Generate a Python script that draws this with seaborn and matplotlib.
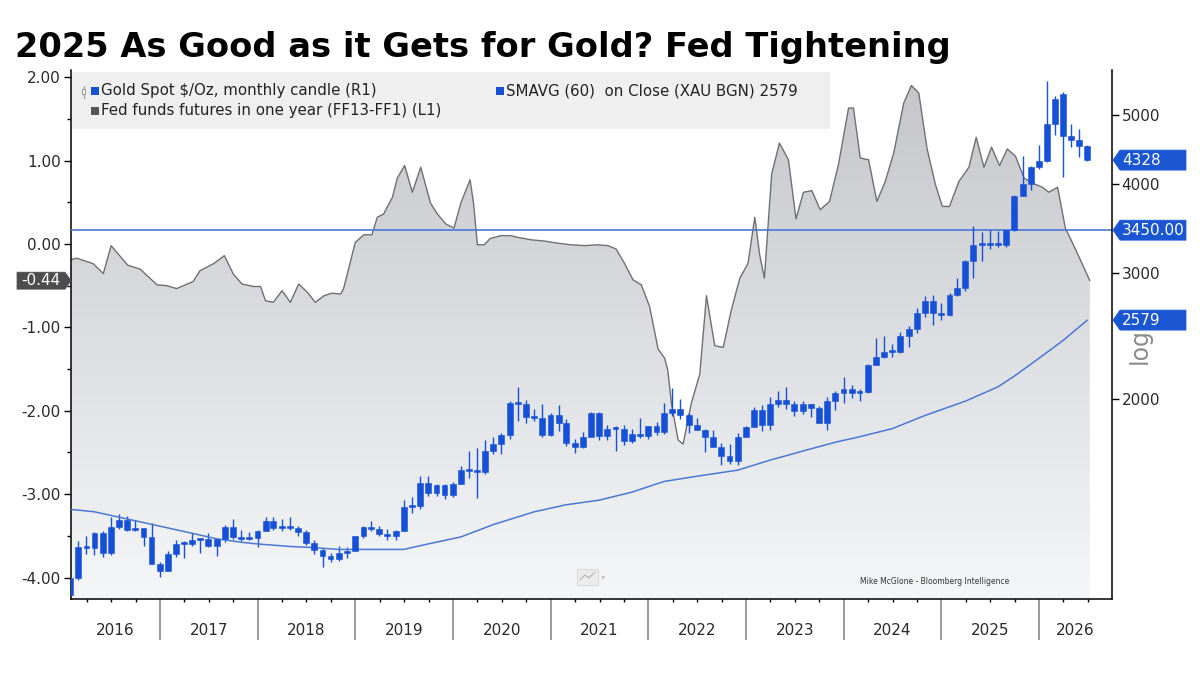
import numpy as np
import pandas as pd
import matplotlib
matplotlib.use("Agg")
import matplotlib.pyplot as plt
import matplotlib.transforms as mtransforms
import seaborn as sns
from matplotlib.colors import LinearSegmentedColormap
from matplotlib.patches import Polygon, Rectangle
from matplotlib.ticker import FixedLocator, NullLocator, FuncFormatter

# Gold spot monthly candles, Jan 2016 .. Jun 2026
gold_open = [
    1061, 1118, 1238, 1233, 1293, 1215, 1322, 1351, 1309, 1316, 1277, 1173,
    1146, 1211, 1249, 1249, 1268, 1269, 1242, 1269, 1322, 1280, 1271, 1275,
    1303, 1345, 1318, 1325, 1315, 1299, 1253, 1224, 1201, 1192, 1215, 1222,
    1282, 1321, 1313, 1292, 1284, 1305, 1409, 1414, 1520, 1472, 1513, 1464,
    1517, 1589, 1585, 1577, 1687, 1730, 1781, 1975, 1968, 1886, 1879, 1776,
    1898, 1847, 1734, 1708, 1769, 1907, 1770, 1814, 1814, 1743, 1783, 1775,
    1829, 1797, 1909, 1937, 1897, 1837, 1807, 1766, 1711, 1660, 1633, 1768,
    1824, 1928, 1837, 1969, 1990, 1963, 1919, 1965, 1940, 1849, 1983, 2036,
    2063, 2040, 2044, 2230, 2286, 2327, 2327, 2447, 2503, 2635, 2744, 2643,
    2625, 2798, 2858, 3124, 3289, 3289, 3303, 3290, 3448, 3859, 4003, 4239,
    4319, 4860, 5360, 4683, 4617, 4530,
]
gold_high = [
    1128, 1263, 1283, 1298, 1303, 1362, 1375, 1367, 1352, 1317, 1338, 1180,
    1220, 1264, 1262, 1296, 1273, 1296, 1270, 1331, 1357, 1306, 1299, 1306,
    1366, 1362, 1356, 1366, 1326, 1309, 1266, 1235, 1214, 1243, 1237, 1284,
    1326, 1346, 1324, 1310, 1306, 1439, 1453, 1555, 1557, 1518, 1516, 1525,
    1611, 1689, 1704, 1748, 1765, 1789, 1984, 2075, 1992, 1933, 1966, 1907,
    1959, 1872, 1755, 1798, 1913, 1917, 1834, 1832, 1834, 1814, 1877, 1831,
    1853, 1974, 2070, 1998, 1910, 1879, 1814, 1808, 1735, 1730, 1787, 1833,
    1949, 1960, 2009, 2049, 2079, 1984, 1987, 1966, 1953, 2009, 2052, 2146,
    2088, 2065, 2236, 2432, 2450, 2388, 2483, 2531, 2685, 2790, 2801, 2726,
    2817, 2956, 3128, 3500, 3435, 3452, 3439, 3453, 3871, 4381, 4245, 4550,
    5582, 5320, 5400, 4869, 4781, 4540,
]
gold_low = [
    1061, 1111, 1208, 1207, 1200, 1207, 1310, 1302, 1303, 1241, 1171, 1123,
    1146, 1200, 1195, 1240, 1214, 1236, 1204, 1259, 1271, 1260, 1264, 1236,
    1302, 1307, 1303, 1309, 1282, 1245, 1211, 1160, 1180, 1183, 1196, 1221,
    1276, 1303, 1281, 1266, 1267, 1304, 1382, 1400, 1459, 1459, 1445, 1454,
    1517, 1548, 1451, 1568, 1670, 1671, 1757, 1863, 1849, 1860, 1765, 1775,
    1802, 1717, 1677, 1706, 1766, 1750, 1750, 1688, 1721, 1734, 1759, 1753,
    1780, 1785, 1890, 1872, 1787, 1805, 1681, 1709, 1615, 1617, 1616, 1765,
    1823, 1804, 1810, 1950, 1932, 1893, 1903, 1885, 1846, 1810, 1931, 1973,
    2002, 1984, 2039, 2229, 2278, 2286, 2319, 2364, 2471, 2603, 2537, 2583,
    2614, 2789, 2833, 2957, 3121, 3247, 3268, 3268, 3436, 3850, 3930, 4200,
    4300, 4700, 4104, 4510, 4377, 4320,
]
gold_close = [
    1118, 1238, 1233, 1293, 1215, 1322, 1351, 1309, 1316, 1277, 1173, 1146,
    1211, 1249, 1249, 1268, 1269, 1242, 1269, 1322, 1280, 1271, 1275, 1303,
    1345, 1318, 1325, 1315, 1299, 1253, 1224, 1201, 1192, 1215, 1222, 1282,
    1321, 1313, 1292, 1284, 1305, 1409, 1414, 1520, 1472, 1513, 1464, 1517,
    1589, 1585, 1577, 1687, 1730, 1781, 1975, 1968, 1886, 1879, 1776, 1898,
    1847, 1734, 1708, 1769, 1907, 1770, 1814, 1814, 1743, 1783, 1775, 1829,
    1797, 1909, 1937, 1897, 1837, 1807, 1766, 1711, 1660, 1633, 1768, 1824,
    1928, 1837, 1969, 1990, 1963, 1919, 1965, 1940, 1849, 1983, 2036, 2063,
    2040, 2044, 2230, 2286, 2327, 2327, 2447, 2503, 2635, 2744, 2643, 2625,
    2798, 2858, 3124, 3289, 3289, 3303, 3290, 3448, 3859, 4003, 4239, 4319,
    4860, 5270, 4683, 4617, 4530, 4328,
]

# 60-month simple moving average of the close
sma_months = [
    "2016-01", "2016-04", "2016-08", "2016-12", "2017-04", "2017-07", "2017-10",
    "2017-12", "2018-04", "2018-07", "2018-10", "2019-01", "2019-06", "2019-09",
    "2020-01", "2020-05", "2020-10", "2021-02", "2021-06", "2021-10", "2022-02",
    "2022-06", "2022-11", "2023-03", "2023-07", "2023-11", "2024-02", "2024-06",
    "2024-10", "2025-03", "2025-07", "2025-09", "2025-12", "2026-03", "2026-06",
]
sma_values = [
    1398, 1387, 1355, 1324, 1294, 1271, 1257, 1250, 1240, 1235, 1228, 1228,
    1228, 1250, 1279, 1331, 1387, 1419, 1440, 1478, 1530, 1556, 1587, 1639,
    1688, 1737, 1768, 1815, 1894, 1984, 2078, 2151, 2279, 2414, 2579,
]

# Fed funds futures in one year (FF13-FF1), decimal-year dates
ff_dates = [
    2016.09, 2016.145, 2016.315, 2016.42, 2016.50, 2016.67, 2016.795, 2016.97,
    2017.07, 2017.17, 2017.34, 2017.41, 2017.55, 2017.66, 2017.75, 2017.84,
    2017.96, 2018.03, 2018.08, 2018.16, 2018.25, 2018.335, 2018.42, 2018.51,
    2018.59, 2018.68, 2018.76, 2018.85, 2018.88, 2019.00, 2019.087, 2019.17,
    2019.225, 2019.29, 2019.38, 2019.43, 2019.505, 2019.584, 2019.67, 2019.77,
    2019.84, 2019.926, 2020.01, 2020.08, 2020.175, 2020.21, 2020.25, 2020.32,
    2020.38, 2020.49, 2020.59, 2020.66, 2020.80, 2020.935, 2021.07, 2021.21,
    2021.345, 2021.48, 2021.586, 2021.67, 2021.757, 2021.843, 2021.928, 2022.013,
    2022.10, 2022.167, 2022.20, 2022.236, 2022.305, 2022.356, 2022.44, 2022.527,
    2022.595, 2022.68, 2022.767, 2022.85, 2022.937, 2023.02, 2023.09, 2023.14,
    2023.188, 2023.263, 2023.342, 2023.434, 2023.512, 2023.588, 2023.674, 2023.759,
    2023.855, 2023.948, 2024.05, 2024.10, 2024.17, 2024.255, 2024.34, 2024.426,
    2024.512, 2024.615, 2024.693, 2024.769, 2024.854, 2024.94, 2025.01, 2025.083,
    2025.18, 2025.282, 2025.357, 2025.436, 2025.514, 2025.596, 2025.675, 2025.76,
    2025.847, 2025.932, 2026.035, 2026.10, 2026.19, 2026.27, 2026.38, 2026.52,
]
ff_values = [
    -0.19, -0.17, -0.235, -0.355, -0.02, -0.255, -0.30, -0.49,
    -0.50, -0.535, -0.45, -0.32, -0.235, -0.14, -0.36, -0.48,
    -0.51, -0.51, -0.68, -0.70, -0.56, -0.70, -0.48, -0.58,
    -0.70, -0.62, -0.59, -0.60, -0.535, 0.02, 0.11, 0.11,
    0.32, 0.36, 0.56, 0.79, 0.94, 0.62, 0.92, 0.49,
    0.36, 0.24, 0.19, 0.49, 0.77, 0.49, -0.01, -0.01,
    0.065, 0.10, 0.10, 0.08, 0.05, 0.035, 0.01, -0.01,
    -0.02, -0.01, -0.02, -0.06, -0.235, -0.43, -0.49, -0.75,
    -1.26, -1.37, -1.52, -1.91, -2.35, -2.40, -1.91, -1.56,
    -0.62, -1.22, -1.24, -0.79, -0.41, -0.235, 0.32, -0.13,
    -0.41, 0.84, 1.21, 1.01, 0.30, 0.62, 0.64, 0.41,
    0.51, 0.96, 1.63, 1.63, 1.03, 1.01, 0.51, 0.75,
    1.09, 1.69, 1.90, 1.81, 1.14, 0.71, 0.45, 0.45,
    0.75, 0.92, 1.28, 0.92, 1.16, 0.94, 1.14, 1.05,
    0.79, 0.73, 0.68, 0.62, 0.68, 0.19, -0.08, -0.44,
]

years = list(range(2016, 2027))
level_line = 3450
last_ff = -0.44
last_gold = 4328
last_sma = 2579

title = "2025 As Good as it Gets for Gold? Fed Tightening"
legend_gold = "Gold Spot $/Oz, monthly candle (R1)"
legend_sma = "SMAVG (60)  on Close (XAU BGN) 2579"
legend_ff = "Fed funds futures in one year (FF13-FF1) (L1)"
credit = "Mike McGlone - Bloomberg Intelligence"

BLUE = "#1650d6"
LINE_BLUE = "#4a78d4"
TAG_BLUE = "#1a55d2"
W, H = 1200, 675


def dec_year(dates):
    days = np.where(dates.is_leap_year, 366, 365)
    return dates.year + (dates.dayofyear - 0.5) / days


candles = pd.DataFrame({"open": gold_open, "high": gold_high,
                        "low": gold_low, "close": gold_close})
candles["t"] = dec_year(pd.date_range("2016-01-31", periods=len(candles), freq="ME"))
sma = pd.DataFrame({"t": dec_year(pd.to_datetime(sma_months) + pd.offsets.MonthEnd(0)),
                    "sma": sma_values})
ff = pd.DataFrame({"t": ff_dates, "ff": ff_values})

sns.set_theme(style="white")
plt.rcParams["font.family"] = ["DejaVu Sans"]

fig = plt.figure(figsize=(12, 6.75), dpi=100)
ax = fig.add_axes([70.7 / W, 1 - 599 / H, 1041 / W, 529 / H])
ax2 = ax.twinx()

x_lo, x_hi = 2016.086, 2026.744
ff_lo, ff_hi = -4.257, 2.086
g_lo, g_hi = 1046, 5793

# Fed funds area with a vertical grey gradient
area = ax.fill_between(ff["t"], ff["ff"], ff_lo, facecolor="none", edgecolor="none")
grad_cmap = LinearSegmentedColormap.from_list("fill", ["#f5f6f8", "#c3c5c9"])
grad = np.linspace(1, 0, 256).reshape(-1, 1)
im = ax.imshow(grad, extent=[x_lo, x_hi, ff_lo, ff_hi], aspect="auto",
               cmap=grad_cmap, origin="upper", zorder=1)
im.set_clip_path(area.get_paths()[0], transform=ax.transData)
sns.lineplot(data=ff, x="t", y="ff", ax=ax, color="#707070", lw=1.0, zorder=2)
ax.set_xlim(x_lo, x_hi)
ax.set_ylim(ff_lo, ff_hi)

# Gold candles (right, log scale)
ax2.set_yscale("log")
body_lo = candles[["open", "close"]].min(axis=1)
body_hi = candles[["open", "close"]].max(axis=1)
body_h = np.maximum(body_hi - body_lo, body_lo * 0.006)
ax2.vlines(candles["t"], candles["low"], candles["high"], color=BLUE, lw=1.0, zorder=3)
ax2.bar(candles["t"], body_h, bottom=body_lo, width=0.06, color=BLUE,
        edgecolor=BLUE, linewidth=0.4, zorder=4)
sns.lineplot(data=sma, x="t", y="sma", ax=ax2, color=LINE_BLUE, lw=1.1, zorder=3)
ax2.axhline(level_line, color=LINE_BLUE, lw=1.2, zorder=2)
ax2.set_ylim(g_lo, g_hi)
ax2.set_xlim(x_lo, x_hi)

# axes styling
for a in (ax, ax2):
    a.set_xlabel("")
    a.set_ylabel("")
    for s in a.spines.values():
        s.set_visible(False)
ax.spines["left"].set_visible(True)
ax.spines["bottom"].set_visible(True)
ax2.spines["right"].set_visible(True)
for s in (ax.spines["left"], ax.spines["bottom"], ax2.spines["right"]):
    s.set_color("black")
    s.set_linewidth(1.1)

ax.yaxis.set_major_locator(FixedLocator([-4, -3, -2, -1, 0, 1, 2]))
ax.yaxis.set_minor_locator(FixedLocator([-3.5, -2.5, -1.5, -0.5, 0.5, 1.5]))
ax.yaxis.set_major_formatter(FuncFormatter(lambda v, p: f"{v:.2f}"))
ax.tick_params(axis="y", which="major", left=True, direction="out", length=5,
               width=1, color="black", labelsize=11, labelcolor="#2a2a2a", pad=2)
ax.tick_params(axis="y", which="minor", left=True, direction="out", length=3,
               width=1, color="black")

ax.xaxis.set_major_locator(FixedLocator(years[1:]))
quarters = [y + q for y in years for q in (0.25, 0.5, 0.75) if x_lo < y + q < x_hi]
ax.xaxis.set_minor_locator(FixedLocator(quarters))
ax.tick_params(axis="x", which="major", bottom=True, direction="out", length=29.5,
               width=1.2, color="#8a8a8a", labelbottom=False)
ax.tick_params(axis="x", which="minor", bottom=True, direction="out", length=2.5,
               width=1, color="black")

ax2.yaxis.set_major_locator(FixedLocator([2000, 3000, 4000, 5000]))
ax2.yaxis.set_minor_locator(NullLocator())
ax2.yaxis.set_major_formatter(FuncFormatter(lambda v, p: f"{v:.0f}"))
ax2.tick_params(axis="y", which="major", right=True, direction="out", length=5,
                width=1, color="black", labelsize=11, labelcolor="#2a2a2a", pad=2)

# year labels centred in each visible year
xtrans = mtransforms.blended_transform_factory(ax.transData, ax.transAxes)
for y in years:
    a0, a1 = max(y, x_lo), min(y + 1, x_hi)
    ax.text((a0 + a1) / 2, -0.06, str(y), transform=xtrans, ha="center",
            va="center", fontsize=11, color="#2a2a2a")

ax.text((860 - 70.7) / 1041, (599 - 582) / 529, credit, transform=ax.transAxes,
        fontsize=5.5, color="#333333", va="center")


def fx(x):
    return x / W


def fy(y):
    return 1 - y / H


def add_poly(points, color):
    fig.add_artist(Polygon([(fx(x), fy(y)) for x, y in points], closed=True,
                           transform=fig.transFigure, facecolor=color,
                           edgecolor=color, lw=0.5, zorder=5))


# title
fig.text(fx(15), fy(57), title, fontsize=24.2, fontweight="bold",
         va="baseline", ha="left", color="black")

# legend panel
fig.add_artist(Rectangle((fx(71.5), fy(129)), (830 - 71.5) / W, 57 / H,
                         transform=fig.transFigure, facecolor="#efefef",
                         edgecolor="none", zorder=2))
for (sx, sy), col in (((91, 91), BLUE), ((496, 91), BLUE), ((91, 111), "#555555")):
    fig.add_artist(Rectangle((fx(sx), fy(sy + 4)), 8 / W, 8 / H,
                             transform=fig.transFigure, facecolor=col,
                             edgecolor="none", zorder=3))
# tiny candle glyph
fig.add_artist(plt.Line2D([fx(83.5), fx(83.5)], [fy(86), fy(98)],
                          transform=fig.transFigure, color="#9a9a9a", lw=0.8, zorder=3))
fig.add_artist(Rectangle((fx(81.5), fy(94)), 4 / W, 5 / H, transform=fig.transFigure,
                         facecolor="white", edgecolor="#9a9a9a", lw=0.8, zorder=4))
for tx, ty, txt in ((101, 91, legend_gold), (506, 91, legend_sma), (101, 111, legend_ff)):
    fig.text(fx(tx), fy(ty), txt, fontsize=10.8, color="#222222",
             va="center", ha="left", zorder=4)

# small chart-type icon
fig.add_artist(Rectangle((fx(577), fy(585)), 21 / W, 16 / H, transform=fig.transFigure,
                         facecolor="#ececec", edgecolor="#d4d4d4", lw=0.6, zorder=3))
fig.add_artist(plt.Line2D([fx(580), fx(585), fx(589), fx(595)],
                          [fy(580), fy(575), fy(578), fy(572)],
                          transform=fig.transFigure, color="#b0b0b0", lw=0.8, zorder=4))
fig.text(fx(601), fy(577), "\u25be", fontsize=6, color="#c0c0c0", va="center")

# "log" marker on the right axis, partly under the SMA tag
fig.text(fx(1140), fy(346), "log", rotation=90, fontsize=17, color="#8c8c8c",
         ha="center", va="center", zorder=3)


def img_y(axis, value):
    return H - axis.transData.transform((x_lo, value))[1]


# right-hand value tags
for val, txt in ((last_gold, "4328"), (level_line, "3450.00"), (last_sma, "2579")):
    yc = img_y(ax2, val)
    add_poly([(1113, yc), (1120, yc - 10), (1186, yc - 10), (1186, yc + 10),
              (1120, yc + 10)], TAG_BLUE)
    fig.text(fx(1122), fy(yc), txt, fontsize=11, color="white",
             va="center", ha="left", zorder=6)

# left-hand tag for the latest fed funds reading
yc = img_y(ax, last_ff)
add_poly([(71, yc), (65, yc - 8.5), (17, yc - 8.5), (17, yc + 8.5), (65, yc + 8.5)],
         "#4d4d4d")
fig.text(fx(41), fy(yc), f"{last_ff:.2f}", fontsize=11, color="white",
         va="center", ha="center", zorder=6)

fig.savefig("out.png", dpi=100, facecolor="white")
